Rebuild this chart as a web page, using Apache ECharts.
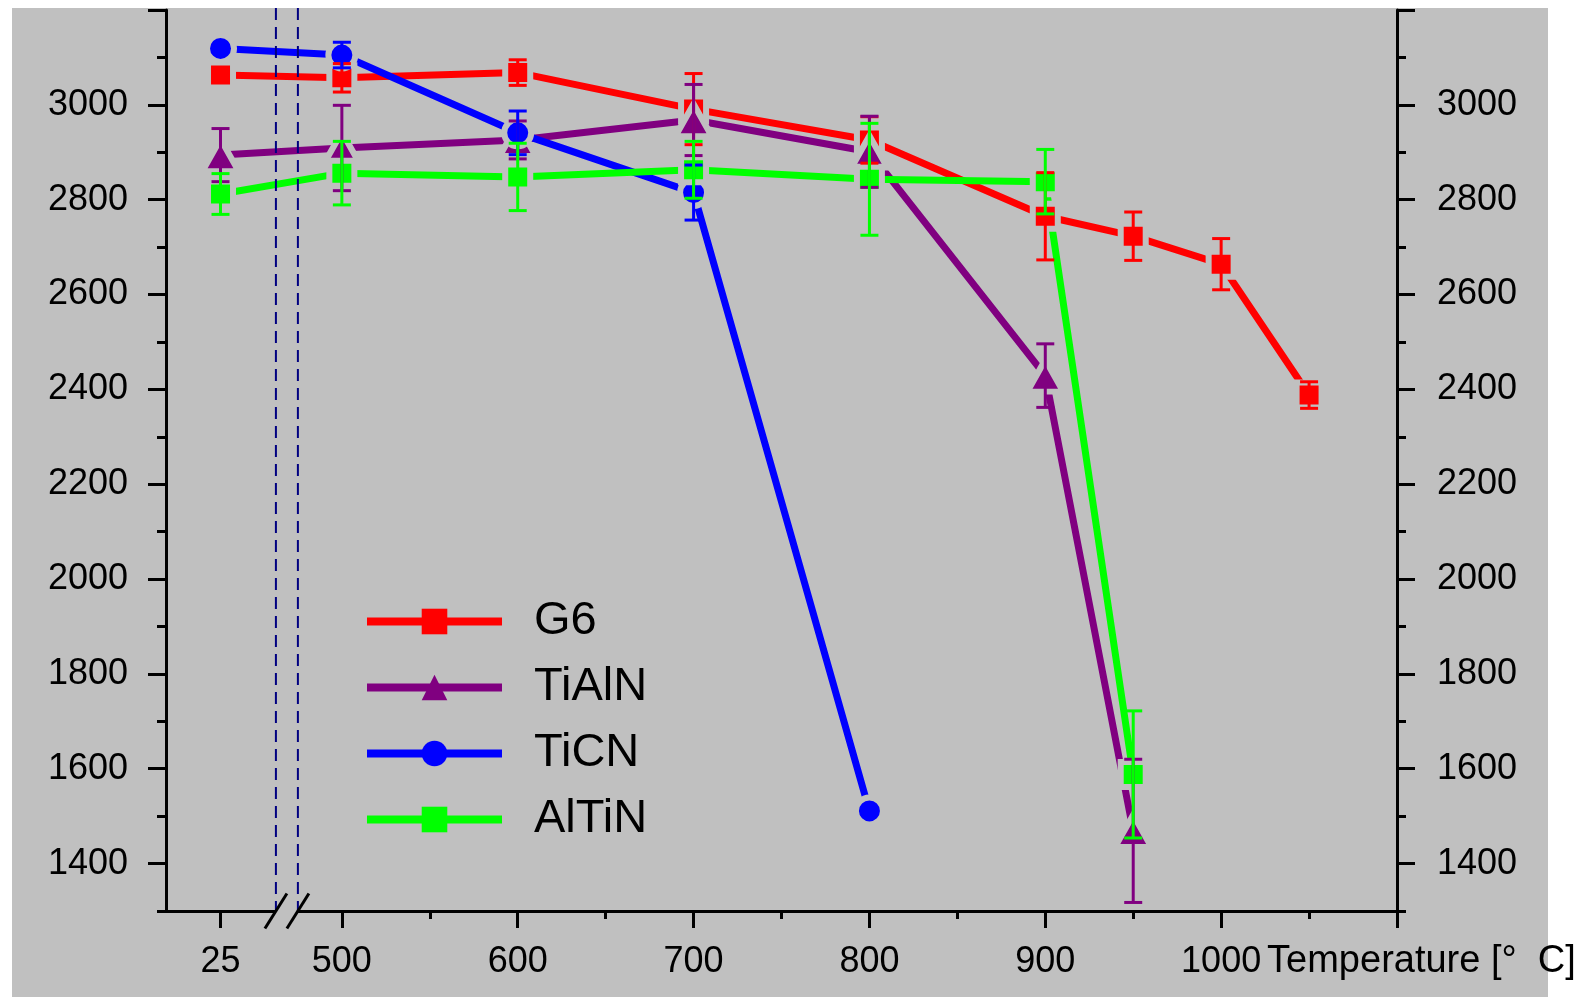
<!DOCTYPE html>
<html><head><meta charset="utf-8">
<script src="https://cdn.jsdelivr.net/npm/echarts@6/dist/echarts.min.js"></script>
<style>
html,body{margin:0;padding:0;background:#fff;width:1589px;height:997px;overflow:hidden}
#bg{position:absolute;left:12px;top:8px;width:1536px;height:989px;background:#c0c0c0}
#chart{position:absolute;left:0;top:0;width:1589px;height:997px}
</style></head><body><div id="bg"></div><div id="chart"></div>
<script>
// ---- data ----
const temps = [25, 500, 600, 700, 800, 900, 950, 1000, 1050];
const g6       = [3063, 3057, 3068, 2991, 2926, 2765, 2723, 2664, 2388];
const g6Err    = [null, 30, 27, 75, 49, 92, 51, 54, 28];
const tialn    = [2894, 2909, 2926, 2968, 2901, 2429, 1469];
const tialnErr = [56, 90, 40, 75, 75, 67, 151];
const ticn     = [3119, 3105, 2941, 2815, 1511];
const ticnErr  = [null, 27, 46, 58, null];
const altin    = [2812, 2856, 2848, 2863, 2843, 2838, 1588];
const altinErr = [43, 67, 71, 60, 118, 68, 134];

const xLabelTemps = [25, 500, 600, 700, 800, 900, 1000];
const xMajorTicks = [25, 500, 600, 700, 800, 900, 1000, 1100];
const xMinorTicks = [550, 650, 750, 850, 950, 1050];
const yLabels = [1400, 1600, 1800, 2000, 2200, 2400, 2600, 2800, 3000];
const yMajorTicks = [1400, 1600, 1800, 2000, 2200, 2400, 2600, 2800, 3000, 3200];
const yMinorTicks = [1300, 1500, 1700, 1900, 2100, 2300, 2500, 2700, 2900, 3100];

// broken axis: the 25 °C point sits left of the break
const BREAK_25_POS = 431;
const BREAK_LINES = [462.5, 475];
const X_MIN = 400, X_MAX = 1100, Y_MIN = 1300, Y_MAX = 3200;

const FONT = 'Liberation Sans, Arial, sans-serif';
const BG = '#c0c0c0';

function axisPos(t) { return t === 25 ? BREAK_25_POS : t; }
function pairs(vals) { return vals.map((v, i) => [axisPos(temps[i]), v]); }
function errData(vals, errs) {
  const out = [];
  vals.forEach((v, i) => { if (errs[i] != null) out.push([axisPos(temps[i]), v - errs[i], v + errs[i]]); });
  return out;
}
function errRender(color) {
  return function (params, api) {
    const x = api.value(0), lo = api.value(1), hi = api.value(2);
    const pLo = api.coord([x, lo]), pHi = api.coord([x, hi]);
    const hw = 9;
    const st = { stroke: color, lineWidth: 3 };
    return { type: 'group', children: [
      { type: 'line', shape: { x1: pLo[0], y1: pLo[1], x2: pHi[0], y2: pHi[1] }, style: st },
      { type: 'line', shape: { x1: pLo[0] - hw, y1: pLo[1], x2: pLo[0] + hw, y2: pLo[1] }, style: st },
      { type: 'line', shape: { x1: pHi[0] - hw, y1: pHi[1], x2: pHi[0] + hw, y2: pHi[1] }, style: st }
    ]};
  };
}
function lineSeries(name, vals, color, symbol, size) {
  return {
    type: 'line', name, data: pairs(vals), symbol, symbolSize: size,
    lineStyle: { color, width: 7 },
    itemStyle: { color, borderColor: BG, borderWidth: 6 },
    emphasis: { disabled: true }, z: 2
  };
}
function errSeries(name, vals, errs, color) {
  return {
    type: 'custom', name: name + ' err', data: errData(vals, errs),
    encode: { x: 0, y: [1, 2] }, renderItem: errRender(color), z: 4, silent: true, clip: false
  };
}

const axisLineStyle = { color: '#000', width: 3 };
const labelStyle = { color: '#000', fontSize: 36, fontFamily: FONT };

const chart = echarts.init(document.getElementById('chart'), null, { renderer: 'canvas' });
chart.setOption({
  animation: false,
  grid: { left: 166, right: 192, top: 10, bottom: 86, containLabel: false },
  xAxis: [
    {
      type: 'value', min: X_MIN, max: X_MAX, position: 'bottom',
      axisLine: { show: true, lineStyle: axisLineStyle },
      axisTick: { show: true, inside: false, length: 17, lineStyle: axisLineStyle, customValues: xMajorTicks.map(axisPos) },
      axisLabel: Object.assign({ margin: 33, customValues: xLabelTemps.map(axisPos),
        formatter: v => (v === BREAK_25_POS ? '25' : String(v)) }, labelStyle),
      splitLine: { show: false },
      name: 'Temperature [°  C]', nameLocation: 'end', nameGap: -132,
      nameTextStyle: { color: '#000', fontSize: 38, fontFamily: FONT, align: 'left', verticalAlign: 'top', padding: [32, 0, 0, 0] }
    },
    {
      type: 'value', min: X_MIN, max: X_MAX, position: 'bottom',
      axisLine: { show: false },
      axisTick: { show: true, inside: false, length: 8, lineStyle: axisLineStyle, customValues: xMinorTicks },
      axisLabel: { show: false }, splitLine: { show: false }
    }
  ],
  yAxis: [
    {
      type: 'value', min: Y_MIN, max: Y_MAX, position: 'left',
      axisLine: { show: true, lineStyle: axisLineStyle },
      axisTick: { show: true, length: 18, lineStyle: axisLineStyle, customValues: yMajorTicks },
      axisLabel: Object.assign({ margin: 38, customValues: yLabels, formatter: v => String(v) }, labelStyle),
      splitLine: { show: false }
    },
    {
      type: 'value', min: Y_MIN, max: Y_MAX, position: 'left',
      axisLine: { show: false },
      axisTick: { show: true, length: 9, lineStyle: axisLineStyle, customValues: yMinorTicks },
      axisLabel: { show: false }, splitLine: { show: false }
    },
    {
      type: 'value', min: Y_MIN, max: Y_MAX, position: 'right',
      axisLine: { show: true, lineStyle: axisLineStyle },
      axisTick: { show: true, length: 18, lineStyle: axisLineStyle, customValues: yMajorTicks },
      axisLabel: Object.assign({ margin: 40, customValues: yLabels, formatter: v => String(v) }, labelStyle),
      splitLine: { show: false }
    },
    {
      type: 'value', min: Y_MIN, max: Y_MAX, position: 'right',
      axisLine: { show: false },
      axisTick: { show: true, length: 9, lineStyle: axisLineStyle, customValues: yMinorTicks },
      axisLabel: { show: false }, splitLine: { show: false }
    }
  ],
  legend: {
    data: ['G6', 'TiAlN', 'TiCN', 'AlTiN'], orient: 'vertical', left: 358, top: 593,
    itemWidth: 135, itemHeight: 32, itemGap: 19,
    textStyle: { color: '#000', fontSize: 47, fontFamily: FONT, padding: [0, 0, 0, 27] },
    itemStyle: { borderWidth: 0 }, lineStyle: { width: 8 }, selectedMode: false
  },
  series: [
    lineSeries('G6', g6, '#ff0000', 'rect', 25),
    lineSeries('TiAlN', tialn, '#800080', 'triangle', [36, 32]),
    lineSeries('TiCN', ticn, '#0000ff', 'circle', 27),
    lineSeries('AlTiN', altin, '#00ff00', 'rect', 25),
    errSeries('G6', g6, g6Err, '#ff0000'),
    errSeries('TiAlN', tialn, tialnErr, '#800080'),
    errSeries('TiCN', ticn, ticnErr, '#0000ff'),
    errSeries('AlTiN', altin, altinErr, '#00ff00'),
    {
      type: 'custom', name: 'axis break', data: [[BREAK_LINES[0], BREAK_LINES[1]]],
      encode: { x: [0, 1] }, clip: false, silent: true, z: 6,
      renderItem: function (params, api) {
        const a = api.value(0), b = api.value(1);
        const ba = api.coord([a, Y_MIN]), bb = api.coord([b, Y_MIN]);
        const ta = api.coord([a, Y_MAX]), tb = api.coord([b, Y_MAX]);
        const dash = { stroke: '#000080', lineWidth: 2, lineDash: [12, 7] };
        const sl = { stroke: '#000', lineWidth: 3 };
        const dx = 11, dy = 17.5;
        return { type: 'group', children: [
          { type: 'rect', shape: { x: ba[0], y: ba[1] - 3, width: bb[0] - ba[0], height: 6 }, style: { fill: BG } },
          { type: 'line', shape: { x1: ta[0], y1: ta[1] - 2, x2: ba[0], y2: ba[1] }, style: dash },
          { type: 'line', shape: { x1: tb[0], y1: tb[1] - 2, x2: bb[0], y2: bb[1] }, style: dash },
          { type: 'line', shape: { x1: ba[0] - dx, y1: ba[1] + dy, x2: ba[0] + dx, y2: ba[1] - dy }, style: sl },
          { type: 'line', shape: { x1: bb[0] - dx, y1: bb[1] + dy, x2: bb[0] + dx, y2: bb[1] - dy }, style: sl }
        ]};
      }
    }
  ]
});
</script></body></html>
